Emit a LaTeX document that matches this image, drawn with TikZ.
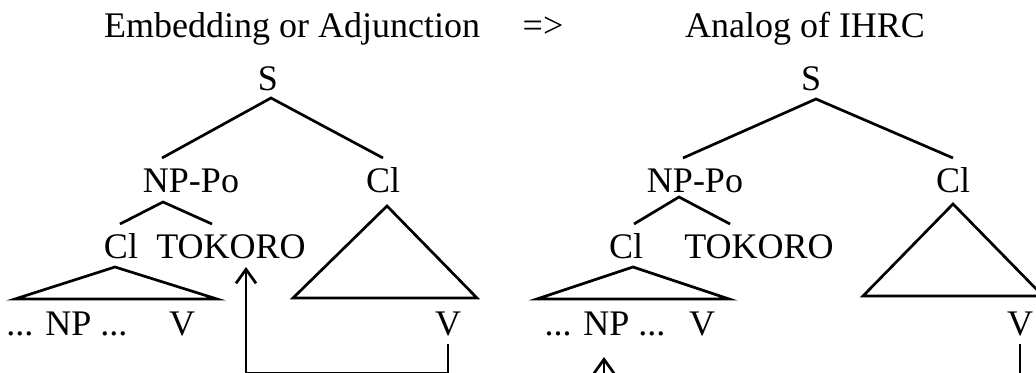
\documentclass[tikz,border=0pt]{standalone}
\usepackage{fontspec}
\setmainfont{Liberation Serif}
\usetikzlibrary{arrows.meta}

\tikzset{
  lab/.style={anchor=base, inner sep=3.5pt, font=\fontsize{18}{21}\selectfont},
}

\begin{document}
\begin{tikzpicture}[x=0.5pt, y=-0.5pt, line width=1.35pt, >={Straight Barb[length=7pt,width=10pt]}]
		\clip (0,0) rectangle (1036,373);
		
		% Titles
		\node[lab] (tleft) at (292,38) {Embedding or Adjunction};
		\node[lab] (tarrow) at (543,38) {=>};
		\node[lab] (tright) at (805,38) {Analog of IHRC};
		
		% Left tree: labels
		\node[lab] (S1) at (268,91) {S};
		\node[lab] (NPPo1) at (191,193) {NP-Po};
		\node[lab] (Cl1) at (383,193) {Cl};
		\node[lab] (ClA) at (121,258) {Cl};
		\node[lab] (Tok1) at (231,258) {TOKORO};
		\node[lab] (NPa) at (67,335) {... NP ...};
		\node[lab] (Va) at (182,335) {V};
		\node[lab] (Vb) at (448,335) {V};
		
		% Left tree: branch points
		\coordinate (s1) at (271,98);
		\coordinate (s1l) at (162,158);
		\coordinate (s1r) at (383,158);
		\coordinate (np1) at (163,202);
		\coordinate (np1l) at (120,224);
		\coordinate (np1r) at (212,224);
		\coordinate (clA) at (115,267);
		\coordinate (clAl) at (15,299);
		\coordinate (clAr) at (217,299);
		\coordinate (cl1) at (387,206);
		\coordinate (cl1l) at (293,298);
		\coordinate (cl1r) at (477,298);
		\coordinate (tip1) at (246,267);
		
		\draw (s1l) -- (s1) -- (s1r);
		\draw (np1l) -- (np1) -- (np1r);
		\draw (clAl) -- (clA) -- (clAr) -- cycle;
		\draw (cl1l) -- (cl1) -- (cl1r) -- cycle;
		
		% Movement of V up to TOKORO
		\draw[->] (Vb.south) -- ++(0,29) -| (tip1);
		
		% Right tree: labels
		\node[lab] (S2) at (811,91) {S};
		\node[lab] (NPPo2) at (695,193) {NP-Po};
		\node[lab] (Cl2) at (953,193) {Cl};
		\node[lab] (ClB) at (626,258) {Cl};
		\node[lab] (Tok2) at (759,258) {TOKORO};
		\node[lab] (NPb) at (605,335) {... NP ...};
		\node[lab] (Vc) at (702,335) {V};
		\node[lab] (Vd) at (1020,335) {V};
		
		% Right tree: branch points
		\coordinate (s2) at (816,99);
		\coordinate (s2l) at (683,158);
		\coordinate (s2r) at (953,158);
		\coordinate (np2) at (679,197);
		\coordinate (np2l) at (634,224);
		\coordinate (np2r) at (730,224);
		\coordinate (clB) at (633,267);
		\coordinate (clBl) at (537,299);
		\coordinate (clBr) at (729,299);
		\coordinate (cl2) at (953,204);
		\coordinate (cl2l) at (863,296);
		\coordinate (cl2r) at (1043,296);
		\coordinate (tip2) at (604,357);
		\coordinate (foot2) at (604,380);
		\coordinate (foot3) at (1020,380);
		
		\draw (s2l) -- (s2) -- (s2r);
		\draw (np2l) -- (np2) -- (np2r);
		\draw (clBl) -- (clB) -- (clBr) -- cycle;
		\draw (cl2l) -- (cl2) -- (cl2r) -- cycle;
		
		% Lines leaving the picture
		\draw[->] (foot2) -- (tip2);
		\draw (Vd.south) -- (foot3);
	\end{tikzpicture}
\end{document}
